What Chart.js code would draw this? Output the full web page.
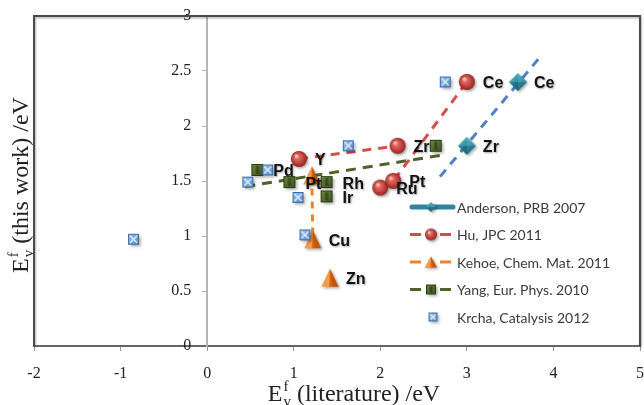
<!DOCTYPE html>
<html><head><meta charset="utf-8">
<script src="https://cdn.jsdelivr.net/npm/chart.js@4.4.0/dist/chart.umd.min.js"></script>
<style>html,body{margin:0;padding:0;background:#fff}#wrap{width:644px;height:405px;position:relative}canvas{display:block}</style>
</head><body><div id="wrap"><canvas id="c" width="644" height="405"></canvas></div>
<script>
// ---- data ----
const xTicks = [-2, -1, 0, 1, 2, 3, 4, 5];
const yTicks = [0, 0.5, 1, 1.5, 2, 2.5, 3];
const xTitleRest = ' (literature) /eV';
const yTitleRest = ' (this work) /eV';

const seriesNames = ['Anderson, PRB 2007', 'Hu, JPC 2011', 'Kehoe, Chem. Mat. 2011', 'Yang, Eur. Phys. 2010', 'Krcha, Catalysis 2012'];

const andersonX = [3.00, 3.59];
const andersonY = [1.82, 2.40];
const andersonLabels = ['Zr', 'Ce'];

const huX = [1.06, 2.20, 2.00, 2.15, 3.00];
const huY = [1.70, 1.82, 1.44, 1.50, 2.40];
const huLabels = ['Y', 'Zr', 'Ru', 'Pt', 'Ce'];

const kehoeX = [1.21, 1.22, 1.42];
const kehoeY = [1.55, 0.97, 0.62];
const kehoeLabels = ['', 'Cu', 'Zn'];

const yangX = [0.58, 0.95, 1.38, 1.38, 2.64];
const yangY = [1.60, 1.49, 1.49, 1.36, 1.82];
const yangLabels = ['Pd', 'Pt', 'Rh', 'Ir', ''];

const krchaX = [-0.85, 0.47, 0.70, 1.05, 1.13, 1.63, 2.75];
const krchaY = [0.97, 1.49, 1.60, 1.35, 1.01, 1.82, 2.40];

const andersonTrendX = [2.69, 3.87];
const andersonTrendY = [1.54, 2.65];
const yangTrendX = [0.44, 2.75];
const yangTrendY = [1.45, 1.74];

// ---- helpers ----
const pts = (xs, ys) => xs.map((x, i) => ({x: x, y: ys[i]}));
function mk(s, draw) { const c = document.createElement('canvas'); c.width = s; c.height = s; draw(c.getContext('2d'), s / 2); return c; }
function shadow(g) { g.shadowColor = 'rgba(0,0,0,0.35)'; g.shadowBlur = 3; g.shadowOffsetX = 1.5; g.shadowOffsetY = 1.5; }
function noShadow(g) { g.shadowColor = 'rgba(0,0,0,0)'; g.shadowBlur = 0; g.shadowOffsetX = 0; g.shadowOffsetY = 0; }

function sphereImg(r) {
  return mk(Math.ceil(2 * r + 10), (g, c) => {
    shadow(g);
    const gr = g.createRadialGradient(c - r * 0.35, c - r * 0.4, r * 0.05, c, c, r);
    gr.addColorStop(0, '#f9d2d0'); gr.addColorStop(0.3, '#e06560');
    gr.addColorStop(0.75, '#b93b36'); gr.addColorStop(1, '#8a2421');
    g.fillStyle = gr; g.beginPath(); g.arc(c, c, r, 0, Math.PI * 2); g.fill();
  });
}
function diamondImg(w) {
  return mk(Math.ceil(2 * w + 10), (g, c) => {
    shadow(g);
    const gr = g.createLinearGradient(c - w, c - w, c + w, c + w);
    gr.addColorStop(0, '#6cc3d5'); gr.addColorStop(0.5, '#2a8ba1'); gr.addColorStop(1, '#175a6a');
    g.fillStyle = gr; g.beginPath();
    g.moveTo(c, c - w); g.lineTo(c + w, c); g.lineTo(c, c + w); g.lineTo(c - w, c); g.closePath(); g.fill();
    noShadow(g);
    g.fillStyle = 'rgba(0,0,0,0.18)'; g.beginPath(); g.moveTo(c - w, c); g.lineTo(c, c); g.lineTo(c, c + w); g.closePath(); g.fill();
    g.fillStyle = 'rgba(255,255,255,0.15)'; g.beginPath(); g.moveTo(c, c - w); g.lineTo(c, c); g.lineTo(c + w, c); g.closePath(); g.fill();
  });
}
function triImg(w, h) {
  return mk(Math.ceil(Math.max(2 * w, h) + 10), (g, c) => {
    shadow(g);
    g.fillStyle = '#d9650b'; g.beginPath();
    g.moveTo(c, c - h / 2); g.lineTo(c + w, c + h / 2); g.lineTo(c - w, c + h / 2); g.closePath(); g.fill();
    noShadow(g);
    g.fillStyle = '#f59a4c'; g.beginPath();
    g.moveTo(c, c - h / 2); g.lineTo(c - w * 0.1, c + h / 2); g.lineTo(c - w, c + h / 2); g.closePath(); g.fill();
    g.fillStyle = 'rgba(120,50,0,0.25)'; g.beginPath();
    g.moveTo(c, c - h / 2); g.lineTo(c + w, c + h / 2); g.lineTo(c + w * 0.3, c + h / 2); g.closePath(); g.fill();
  });
}
function greenSqImg(a) {
  return mk(Math.ceil(a + 10), (g, c) => {
    shadow(g);
    const gr = g.createLinearGradient(c - a / 2, c - a / 2, c + a / 2, c + a / 2);
    gr.addColorStop(0, '#6c8c3c'); gr.addColorStop(1, '#3b4e1e');
    g.fillStyle = gr; g.fillRect(c - a / 2, c - a / 2, a, a);
    noShadow(g);
    g.strokeStyle = '#2c3a16'; g.lineWidth = 1; g.strokeRect(c - a / 2 + 0.5, c - a / 2 + 0.5, a - 1, a - 1);
    g.fillStyle = 'rgba(20,30,10,0.45)'; g.fillRect(c - 1.5, c - a / 2 + 2, 3, a - 4);
  });
}
function blueSqImg(a) {
  return mk(Math.ceil(a + 10), (g, c) => {
    shadow(g);
    const gr = g.createLinearGradient(c - a / 2, c - a / 2, c + a / 2, c + a / 2);
    gr.addColorStop(0, '#9fc8f0'); gr.addColorStop(1, '#4a83c2');
    g.fillStyle = gr; g.fillRect(c - a / 2, c - a / 2, a, a);
    noShadow(g);
    g.strokeStyle = '#3a6fa8'; g.lineWidth = 1; g.strokeRect(c - a / 2 + 0.5, c - a / 2 + 0.5, a - 1, a - 1);
    g.strokeStyle = 'rgba(255,255,255,0.85)'; g.lineWidth = 1.4; g.beginPath();
    g.moveTo(c - a / 2 + 2, c - a / 2 + 2); g.lineTo(c + a / 2 - 2, c + a / 2 - 2);
    g.moveTo(c + a / 2 - 2, c - a / 2 + 2); g.lineTo(c - a / 2 + 2, c + a / 2 - 2); g.stroke();
  });
}

const imgs = {
  anderson: diamondImg(9), hu: sphereImg(8), kehoe: triImg(8.5, 18), yang: greenSqImg(12), krcha: blueSqImg(11)
};
const legImgs = [diamondImg(5), sphereImg(6), triImg(6, 11), greenSqImg(10), blueSqImg(9)];
const legLine = [
  {color: '#31849b', width: 5, solid: true},
  {color: '#c9504c', width: 3},
  {color: '#f0832a', width: 3},
  {color: '#4f6228', width: 3},
  null
];

const hideSeg = idx => ctx => ctx.p0DataIndex === idx ? 'rgba(0,0,0,0)' : undefined;

const datasets = [
  {label: seriesNames[4], data: pts(krchaX, krchaY), pointStyle: imgs.krcha, showLine: false, pointRadius: 6},
  {label: seriesNames[3], data: pts(yangX, yangY), pointStyle: imgs.yang, showLine: false, pointRadius: 6, pointLabels: yangLabels},
  {label: seriesNames[2], data: pts(kehoeX, kehoeY), pointStyle: imgs.kehoe, showLine: true, pointRadius: 8,
   borderColor: '#f0832a', borderWidth: 3, borderDash: [7, 6], segment: {borderColor: hideSeg(1)}, pointLabels: kehoeLabels},
  {label: seriesNames[1], data: pts(huX, huY), pointStyle: imgs.hu, showLine: true, pointRadius: 8,
   borderColor: '#d24f4b', borderWidth: 3, borderDash: [9, 7], segment: {borderColor: hideSeg(1)}, pointLabels: huLabels},
  {label: seriesNames[0], data: pts(andersonX, andersonY), pointStyle: imgs.anderson, showLine: false, pointRadius: 9, pointLabels: andersonLabels},
  {label: 'Anderson trend', data: pts(andersonTrendX, andersonTrendY), showLine: true, pointRadius: 0,
   borderColor: '#4f81c4', borderWidth: 3, borderDash: [9, 7]},
  {label: 'Yang trend', data: pts(yangTrendX, yangTrendY), showLine: true, pointRadius: 0,
   borderColor: '#4f6228', borderWidth: 3, borderDash: [10, 7]}
];

function drawEf(ctx, rest, size) {
  const big = size + 'px "Liberation Serif"', small = Math.round(size * 0.62) + 'px "Liberation Serif"';
  ctx.font = big; const wE = ctx.measureText('E').width; const wR = ctx.measureText(rest).width;
  ctx.font = small; const wS = Math.max(ctx.measureText('f').width, ctx.measureText('v').width);
  const total = wE + 1 + wS + wR; let x = -total / 2;
  ctx.textAlign = 'left'; ctx.textBaseline = 'alphabetic';
  ctx.font = big; ctx.fillText('E', x, 0); x += wE + 1;
  ctx.font = small; ctx.fillText('f', x, -size * 0.42); ctx.fillText('v', x, size * 0.22); x += wS;
  ctx.font = big; ctx.fillText(rest, x, 0);
}

const decor = {
  id: 'decor',
  beforeDatasetsDraw(chart) {
    const {ctx, chartArea: a} = chart;
    ctx.save();
    ctx.shadowColor = 'rgba(0,0,0,0.3)'; ctx.shadowBlur = 2; ctx.shadowOffsetX = 1; ctx.shadowOffsetY = 1.5;
    ctx.strokeStyle = '#4a4a4a'; ctx.lineWidth = 2;
    ctx.beginPath(); ctx.moveTo(a.left, a.bottom); ctx.lineTo(a.left, a.top); ctx.lineTo(a.right, a.top); ctx.lineTo(a.right, a.bottom); ctx.stroke();
    ctx.restore();
  },
  afterDatasetDraw(chart, args) {
    const ds = chart.data.datasets[args.index];
    if (!ds.pointLabels) return;
    const ctx = chart.ctx;
    ctx.save();
    ctx.font = 'bold 16px "Liberation Sans"'; ctx.fillStyle = '#111'; ctx.textAlign = 'left'; ctx.textBaseline = 'middle';
    ctx.shadowColor = 'rgba(0,0,0,0.35)'; ctx.shadowBlur = 2; ctx.shadowOffsetX = 1; ctx.shadowOffsetY = 1;
    args.meta.data.forEach((el, i) => { const t = ds.pointLabels[i]; if (t) ctx.fillText(t, el.x + 16, el.y + 2); });
    ctx.restore();
  },
  afterDraw(chart) {
    const ctx = chart.ctx;
    ctx.save();
    ctx.fillStyle = '#222';
    ctx.save(); ctx.translate(354, 401); drawEf(ctx, xTitleRest, 24); ctx.restore();
    ctx.save(); ctx.translate(28, 185); ctx.rotate(-Math.PI / 2); drawEf(ctx, yTitleRest, 24); ctx.restore();
    // legend
    const lx0 = 410, lx1 = 452, tx = 457, y0 = 207, dy = 27.5;
    seriesNames.forEach((name, i) => {
      const y = y0 + i * dy, L = legLine[i];
      if (L) {
        ctx.strokeStyle = L.color; ctx.lineWidth = L.width; ctx.lineCap = L.solid ? 'round' : 'butt';
        ctx.beginPath();
        if (L.solid) { ctx.moveTo(lx0 + 2, y); ctx.lineTo(lx1 + 1, y); }
        else { ctx.moveTo(lx0, y); ctx.lineTo(lx0 + 11, y); ctx.moveTo(lx1 - 12, y); ctx.lineTo(lx1 - 1, y); }
        ctx.stroke();
      }
      const im = legImgs[i], cx = i === 4 ? 433 : (lx0 + lx1) / 2;
      ctx.drawImage(im, cx - im.width / 2, y - im.height / 2);
      ctx.font = '14px Lato'; ctx.fillStyle = '#3a3a3a'; ctx.textAlign = 'left'; ctx.textBaseline = 'middle';
      ctx.fillText(name, tx, y + 1);
    });
    ctx.restore();
  }
};

Chart.defaults.font.family = '"Liberation Serif", serif';
const tickFont = {family: '"Liberation Serif", serif', size: 16};
const fixTicks = arr => ax => { ax.ticks = arr.map(v => ({value: v})); };
const noPad = sc => { sc.paddingLeft = 0; sc.paddingRight = 0; sc.paddingTop = 0; sc.paddingBottom = 0; };

new Chart(document.getElementById('c'), {
  type: 'scatter',
  data: {datasets: datasets},
  options: {
    responsive: false, animation: false, devicePixelRatio: 1,
    layout: {autoPadding: false, padding: {left: 34, top: 16, right: 4, bottom: 59}},
    plugins: {legend: {display: false}, tooltip: {enabled: false}},
    scales: {
      x: {
        type: 'linear', position: {y: 0}, min: xTicks[0], max: xTicks[xTicks.length - 1],
        afterBuildTicks: fixTicks(xTicks), afterFit: noPad,
        ticks: {display: false, padding: 0},
        grid: {drawOnChartArea: false, color: '#999', tickLength: 4},
        border: {color: '#666', width: 2}
      },
      y: {
        type: 'linear', position: {x: 0}, min: yTicks[0], max: yTicks[yTicks.length - 1],
        afterBuildTicks: fixTicks(yTicks), afterFit: noPad,
        ticks: {display: false, padding: 0},
        grid: {drawOnChartArea: false, color: '#aaa', tickLength: 4},
        border: {color: '#b5b5b5', width: 2}
      },
      xl: {
        type: 'linear', axis: 'x', position: {y: -0.165}, min: xTicks[0], max: xTicks[xTicks.length - 1],
        afterBuildTicks: fixTicks(xTicks), afterFit: noPad,
        ticks: {font: tickFont, color: '#222', padding: 0, autoSkip: false, maxRotation: 0, callback: v => String(v)},
        grid: {display: false, drawTicks: false, tickLength: 0},
        border: {display: false}
      },
      yl: {
        type: 'linear', axis: 'y', position: {x: -0.185}, min: yTicks[0], max: yTicks[yTicks.length - 1],
        afterBuildTicks: fixTicks(yTicks), afterFit: noPad,
        ticks: {font: tickFont, color: '#222', padding: 0, autoSkip: false, callback: v => String(v)},
        grid: {display: false, drawTicks: false, tickLength: 0},
        border: {display: false}
      }
    }
  },
  plugins: [decor]
});
</script>
</body></html>
